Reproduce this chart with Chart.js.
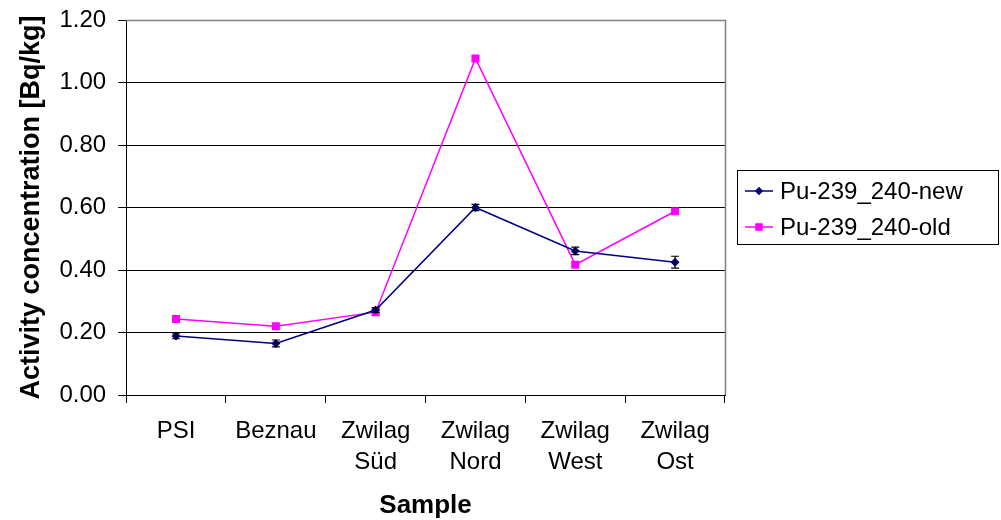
<!DOCTYPE html>
<html>
<head>
<meta charset="utf-8">
<script src="https://cdn.jsdelivr.net/npm/chart.js@4.4.1/dist/chart.umd.min.js"></script>
<style>
  html, body { margin: 0; padding: 0; background: #fff; }
  #wrap { position: relative; width: 1001px; height: 520px; }
</style>
</head>
<body>
<div id="wrap"><canvas id="c" width="1001" height="520"></canvas></div>
<script>
const categories = ['PSI', 'Beznau', ['Zwilag', 'Süd'], ['Zwilag', 'Nord'], ['Zwilag', 'West'], ['Zwilag', 'Ost']];
const seriesNames = ['Pu-239_240-new', 'Pu-239_240-old'];
const newValues = [0.189, 0.165, 0.272, 0.600, 0.461, 0.425];
const newErrors = [0.009, 0.011, 0.008, 0.010, 0.012, 0.019];
const oldValues = [0.243, 0.220, 0.265, 1.077, 0.417, 0.588];
const yMin = 0, yMax = 1.2, yStep = 0.2;
const xTitle = 'Sample';
const yTitle = 'Activity concentration [Bq/kg]';

const FONT = '"Liberation Sans", Arial, sans-serif';
const NEW_COLOR = '#000080';
const OLD_COLOR = '#FF00FF';

const errorBars = {
  id: 'errorBars',
  afterDatasetsDraw(chart) {
    const ctx = chart.ctx;
    const meta = chart.getDatasetMeta(0);
    const ys = chart.scales.y;
    ctx.save();
    ctx.strokeStyle = '#000';
    ctx.lineWidth = 1.2;
    meta.data.forEach((pt, i) => {
      const v = newValues[i], e = newErrors[i];
      const yTop = ys.getPixelForValue(v + e);
      const yBot = ys.getPixelForValue(v - e);
      const x = pt.x;
      ctx.beginPath();
      ctx.moveTo(x, yTop); ctx.lineTo(x, yBot);
      ctx.moveTo(x - 4, yTop); ctx.lineTo(x + 4, yTop);
      ctx.moveTo(x - 4, yBot); ctx.lineTo(x + 4, yBot);
      ctx.stroke();
    });
    ctx.restore();
  }
};

const frame = {
  id: 'frame',
  afterDraw(chart) {
    const ctx = chart.ctx;
    const a = chart.chartArea;
    ctx.save();
    ctx.strokeStyle = '#808080';
    ctx.lineWidth = 1.5;
    ctx.beginPath();
    ctx.moveTo(Math.round(a.left), Math.round(a.top) + 0.5);
    ctx.lineTo(Math.round(a.right) + 0.5, Math.round(a.top) + 0.5);
    ctx.lineTo(Math.round(a.right) + 0.5, Math.round(a.bottom));
    ctx.stroke();

    // legend
    const lx = 737.5, ly = 170.5, lw = 261, lh = 74;
    ctx.strokeStyle = '#000';
    ctx.lineWidth = 1;
    ctx.strokeRect(lx, ly, lw, lh);
    const rows = [191, 227];
    const colors = [NEW_COLOR, OLD_COLOR];
    const styles = ['rectRot', 'rect'];
    const radii = [4, 5];
    ctx.font = '24px ' + FONT;
    ctx.textBaseline = 'middle';
    ctx.textAlign = 'left';
    rows.forEach((ry, i) => {
      ctx.strokeStyle = colors[i];
      ctx.lineWidth = 1.5;
      ctx.beginPath();
      ctx.moveTo(745, ry); ctx.lineTo(773, ry);
      ctx.stroke();
      ctx.fillStyle = colors[i];
      Chart.helpers.drawPoint(ctx, { pointStyle: styles[i], radius: radii[i], borderWidth: 0, rotation: 0 }, 759, ry);
      ctx.fill();
      ctx.fillStyle = '#000';
      ctx.fillText(seriesNames[i], 780, ry + 1);
    });
    ctx.restore();
  }
};

new Chart(document.getElementById('c'), {
  type: 'line',
  data: {
    labels: categories,
    datasets: [
      {
        label: seriesNames[0],
        data: newValues,
        borderColor: NEW_COLOR,
        backgroundColor: NEW_COLOR,
        borderWidth: 1.5,
        pointStyle: 'rectRot',
        pointRadius: 4.5,
        pointBorderWidth: 0,
        tension: 0,
        fill: false
      },
      {
        label: seriesNames[1],
        data: oldValues,
        borderColor: OLD_COLOR,
        backgroundColor: OLD_COLOR,
        borderWidth: 1.5,
        pointStyle: 'rect',
        pointRadius: 5.7,
        pointBorderWidth: 0,
        tension: 0,
        fill: false
      }
    ]
  },
  options: {
    responsive: false,
    animation: false,
    devicePixelRatio: 1,
    layout: { padding: { top: 20, right: 276, left: 15, bottom: 0 } },
    plugins: {
      legend: { display: false },
      tooltip: { enabled: false }
    },
    scales: {
      x: {
        offset: true,
        grid: {
          offset: true,
          drawOnChartArea: false,
          drawTicks: true,
          tickLength: 8,
          color: '#000'
        },
        border: { color: '#000', width: 1 },
        ticks: {
          color: '#000',
          font: { family: FONT, size: 24, lineHeight: 1.3 },
          padding: 13,
          maxRotation: 0,
          autoSkip: false
        },
        title: {
          display: true,
          text: xTitle,
          color: '#000',
          font: { family: FONT, size: 26, weight: 'bold', lineHeight: 1.1 },
          padding: { top: 0, bottom: 0 }
        }
      },
      y: {
        min: yMin,
        max: yMax,
        afterFit: (s) => { s.paddingTop = 0; s.paddingBottom = 0; },
        grid: {
          color: '#000',
          tickLength: 8,
          drawTicks: true
        },
        border: { color: '#000', width: 1 },
        ticks: {
          stepSize: yStep,
          color: '#000',
          font: { family: FONT, size: 24 },
          padding: 12,
          callback: (v) => Number(v).toFixed(2)
        },
        title: {
          display: true,
          text: yTitle,
          color: '#000',
          font: { family: FONT, size: 27, weight: 'bold' },
          padding: { top: 0, bottom: 0 }
        }
      }
    }
  },
  plugins: [errorBars, frame]
});
</script>
</body>
</html>
